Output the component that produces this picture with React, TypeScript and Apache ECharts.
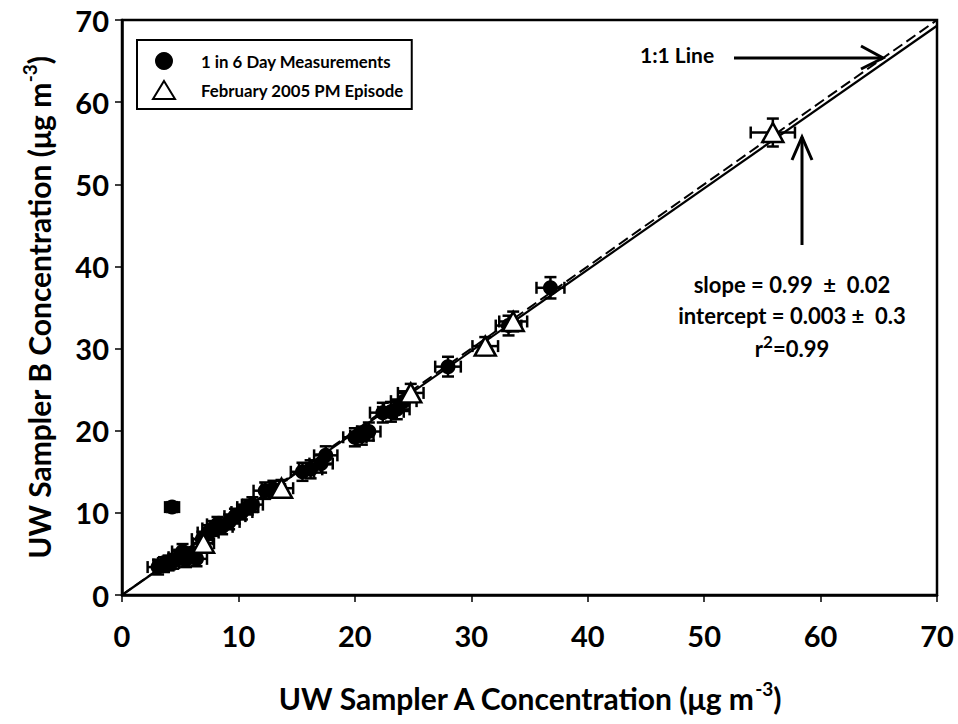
import React, { useEffect, useRef } from 'react';
import * as echarts from 'echarts';

// Axis settings
const axisMin = 0;
const axisMax = 70;
const axisInterval = 10;

// "1 in 6 Day Measurements": [sampler A, sampler B]
const dailyPoints: [number, number][] = [
  [3.1, 3.4], [3.6, 3.7], [4.0, 3.9], [4.4, 4.1], [4.9, 4.6], [5.2, 5.3],
  [5.5, 4.3], [5.9, 4.9], [6.4, 4.4], [6.9, 6.8], [7.4, 7.6], [7.8, 8.1],
  [8.2, 8.6], [8.6, 8.3], [9.2, 8.9], [9.7, 9.6], [10.3, 10.1], [10.8, 10.7],
  [11.2, 11.0], [12.3, 12.7], [13.0, 12.9], [15.5, 15.0], [16.2, 15.3],
  [17.1, 16.0], [17.5, 17.0], [20.0, 19.2], [20.6, 19.4], [21.2, 19.9],
  [22.4, 22.2], [23.1, 22.3], [23.6, 22.6], [24.2, 23.6], [28.0, 27.8],
  [33.2, 32.8], [36.8, 37.4], [4.3, 10.7],
];
const dailyXErr: number[] = [
  0.9, 0.9, 0.9, 0.9, 0.9, 0.9, 0.9, 0.9, 0.9, 0.9, 0.9, 0.9,
  0.9, 0.9, 0.9, 0.9, 0.9, 0.9, 0.9, 1.0, 1.0, 1.0, 1.0,
  1.0, 1.0, 1.0, 1.0, 1.0, 1.1, 1.1, 1.1, 1.1, 1.1,
  1.1, 1.2, 0.6,
];
const dailyYErr: number[] = [
  0.9, 0.9, 0.9, 0.9, 0.9, 0.9, 0.9, 0.9, 0.9, 0.9, 0.9, 0.9,
  0.9, 0.9, 0.9, 0.9, 0.9, 0.9, 0.9, 1.0, 1.0, 1.1, 1.1,
  1.1, 1.1, 1.1, 1.1, 1.1, 1.2, 1.2, 1.2, 1.2, 1.2,
  1.2, 1.3, 0.6,
];

// "February 2005 PM Episode"
const episodePoints: [number, number][] = [
  [7.0, 6.3], [13.7, 13.0], [24.8, 24.6], [31.2, 30.3], [33.6, 33.3], [55.9, 56.3],
];
const episodeXErr: number[] = [0.9, 1.0, 1.1, 1.1, 1.2, 1.9];
const episodeYErr: number[] = [0.9, 1.0, 1.1, 1.1, 1.2, 1.7];

// Regression fit
const fitSlope = 0.99;
const fitIntercept = 0.003;
const lineEnds = [0, 70];

const seriesNames = ['1 in 6 Day Measurements', 'February 2005 PM Episode'];
const FONT = 'Lato';

export default function App() {
  const ref = useRef<HTMLDivElement>(null);
  useEffect(() => {
    if (!ref.current) return;
    const chart = echarts.init(ref.current, undefined, { renderer: 'svg' });

    const errData = [
      ...dailyPoints.map((p, i) => [p[0], p[1], dailyXErr[i], dailyYErr[i]]),
      ...episodePoints.map((p, i) => [p[0], p[1], episodeXErr[i], episodeYErr[i]]),
    ];

    const renderErr = (params: any, api: any) => {
      const x = api.value(0), y = api.value(1), xe = api.value(2), ye = api.value(3);
      const l = api.coord([x - xe, y]);
      const r = api.coord([x + xe, y]);
      const t = api.coord([x, y + ye]);
      const b = api.coord([x, y - ye]);
      const c = 6;
      const style = { stroke: '#000', lineWidth: 2.5 };
      return {
        type: 'group',
        children: [
          { type: 'line', shape: { x1: l[0], y1: l[1], x2: r[0], y2: r[1] }, style },
          { type: 'line', shape: { x1: l[0], y1: l[1] - c, x2: l[0], y2: l[1] + c }, style },
          { type: 'line', shape: { x1: r[0], y1: r[1] - c, x2: r[0], y2: r[1] + c }, style },
          { type: 'line', shape: { x1: t[0], y1: t[1], x2: b[0], y2: b[1] }, style },
          { type: 'line', shape: { x1: t[0] - c, y1: t[1], x2: t[0] + c, y2: t[1] }, style },
          { type: 'line', shape: { x1: b[0] - c, y1: b[1], x2: b[0] + c, y2: b[1] }, style },
        ],
      };
    };

    const axisCommon = {
      type: 'value',
      min: axisMin,
      max: axisMax,
      interval: axisInterval,
      nameLocation: 'middle',
      axisLine: { show: true, lineStyle: { color: '#000', width: 2.5 } },
      axisTick: { show: true, inside: false, length: 7, lineStyle: { color: '#000', width: 1.5 } },
      splitLine: { show: false },
    };

    const nameRich = {
      a: { fontFamily: FONT, fontWeight: 'bold', fontSize: 30, color: '#000', lineHeight: 38 },
      s: { fontFamily: FONT, fontWeight: 'bold', fontSize: 19, color: '#000', verticalAlign: 'top', lineHeight: 38 },
    };

    chart.setOption({
      animation: false,
      backgroundColor: '#fff',
      grid: {
        left: 122, right: 21, top: 20, bottom: 129,
        show: true, borderColor: '#000', borderWidth: 2.5, backgroundColor: 'transparent',
        containLabel: false, outerBoundsMode: 'none',
      },
      legend: {
        data: seriesNames,
        orient: 'vertical',
        left: 137,
        top: 40,
        padding: [12, 8, 9, 15],
        itemGap: 10,
        itemWidth: 22,
        itemHeight: 18,
        borderColor: '#000',
        borderWidth: 2,
        backgroundColor: '#fff',
        textStyle: { fontFamily: FONT, fontWeight: 'bold', fontSize: 16.8, color: '#000', padding: [0, 0, 0, 21] },
      },
      xAxis: {
        ...axisCommon,
        name: '{a|UW Sampler A Concentration (μg m}{s|-3}{a|)}',
        nameGap: 84,
        nameTextStyle: { rich: nameRich },
        axisLabel: { fontFamily: FONT, fontWeight: 'bold', fontSize: 29, color: '#000', margin: 26 },
      },
      yAxis: {
        ...axisCommon,
        name: '{a|UW Sampler B Concentration (μg m}{s|-3}{a|)}',
        nameGap: 64,
        nameTextStyle: { rich: nameRich },
        axisLabel: { fontFamily: FONT, fontWeight: 'bold', fontSize: 29, color: '#000', margin: 13 },
      },
      series: [
        {
          type: 'line',
          name: '1:1',
          data: lineEnds.map((v) => [v, v]),
          symbol: 'none',
          lineStyle: { color: '#000', width: 2, type: [11, 5] },
          z: 2,
          silent: true,
        },
        {
          type: 'line',
          name: 'fit',
          data: lineEnds.map((v) => [v, fitSlope * v + fitIntercept]),
          symbol: 'none',
          lineStyle: { color: '#000', width: 2.2 },
          z: 2,
          silent: true,
        },
        {
          type: 'custom',
          name: 'errors',
          renderItem: renderErr,
          data: errData,
          dimensions: ['x', 'y', 'xe', 'ye'],
          encode: { x: 0, y: 1 },
          z: 3,
          silent: true,
        },
        {
          type: 'scatter',
          name: seriesNames[0],
          data: dailyPoints,
          symbol: 'circle',
          symbolSize: 15,
          itemStyle: { color: '#000', opacity: 1 },
          z: 4,
        },
        {
          type: 'scatter',
          name: seriesNames[1],
          data: episodePoints,
          symbol: 'triangle',
          symbolSize: [21, 19],
          itemStyle: { color: '#fff', borderColor: '#000', borderWidth: 2.5, opacity: 1 },
          z: 5,
        },
      ],
      graphic: [
        {
          type: 'text',
          left: 640,
          top: 44,
          style: { text: '1:1 Line', fontFamily: FONT, fontWeight: 'bold', fontSize: 21, fill: '#000' },
        },
        { type: 'line', shape: { x1: 734, y1: 58, x2: 883, y2: 58 }, style: { stroke: '#000', lineWidth: 3 } },
        { type: 'polyline', shape: { points: [[861, 46], [883, 58], [861, 69]] }, style: { stroke: '#000', lineWidth: 3, fill: 'none' } },
        { type: 'line', shape: { x1: 802, y1: 245, x2: 802, y2: 137 }, style: { stroke: '#000', lineWidth: 3 } },
        { type: 'polyline', shape: { points: [[792, 160], [802, 137], [812, 160]] }, style: { stroke: '#000', lineWidth: 3, fill: 'none' } },
        {
          type: 'text',
          x: 792,
          y: 284,
          style: {
            text: 'slope = 0.99  ±  0.02',
            fontFamily: FONT, fontWeight: 'bold', fontSize: 22, fill: '#000',
            align: 'center', verticalAlign: 'middle',
          },
        },
        {
          type: 'text',
          x: 792,
          y: 315,
          style: {
            text: 'intercept = 0.003 ±  0.3',
            fontFamily: FONT, fontWeight: 'bold', fontSize: 22, fill: '#000',
            align: 'center', verticalAlign: 'middle',
          },
        },
        {
          type: 'text',
          x: 792,
          y: 348,
          style: {
            text: '{a|r}{s|2}{a|=0.99}',
            align: 'center', verticalAlign: 'middle',
            rich: {
              a: { fontFamily: FONT, fontWeight: 'bold', fontSize: 22, fill: '#000', color: '#000', lineHeight: 30 },
              s: { fontFamily: FONT, fontWeight: 'bold', fontSize: 17, fill: '#000', color: '#000', verticalAlign: 'top', lineHeight: 30 },
            },
          },
        },
      ],
    });
    return () => chart.dispose();
  }, []);
  return <div ref={ref} style={{ position: 'absolute', left: 0, top: 0, width: 958, height: 724 }} />;
}
